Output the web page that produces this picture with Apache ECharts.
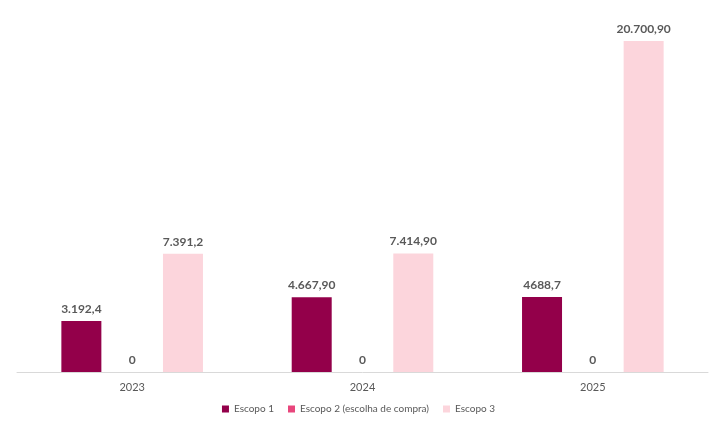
<!DOCTYPE html>
<html>
<head>
<meta charset="utf-8">
<script src="https://cdn.jsdelivr.net/npm/echarts@6/dist/echarts.min.js"></script>
<style>
  html, body { margin: 0; padding: 0; background: #fff; }
  #main { width: 717px; height: 433px; }
</style>
</head>
<body>
<div id="main"></div>
<script>
const years = ['2023', '2024', '2025'];
const escopo1 = [3192.4, 4667.9, 4688.7];
const escopo2 = [0, 0, 0];
const escopo3 = [7391.2, 7414.9, 20700.9];
// labels as printed in the source (mixed formats)
const labels1 = ['3.192,4', '4.667,90', '4688,7'];
const labels2 = ['0', '0', '0'];
const labels3 = ['7.391,2', '7.414,90', '20.700,90'];

const fontFamily = 'Lato, "Open Sans", sans-serif';

function labelFor(texts) {
    return {
        show: true,
        position: 'top',
        distance: 6,
        color: '#595959',
        fontWeight: 'bold',
        fontSize: 12,
        fontFamily: fontFamily,
        formatter: p => texts[p.dataIndex]
    };
}

const chart = echarts.init(document.getElementById('main'));

const option = {
    animation: false,
    grid: { left: 17, right: 9, top: 41, bottom: 61 },
    legend: {
        bottom: 14,
        left: 'center',
        icon: 'rect',
        itemWidth: 7,
        itemHeight: 7,
        itemGap: 14,
        textStyle: { color: '#595959', fontSize: 10, fontFamily: fontFamily }
    },
    xAxis: {
        type: 'category',
        data: years,
        axisTick: { show: false },
        axisLine: { lineStyle: { color: '#d9d9d9' } },
        axisLabel: { color: '#595959', fontSize: 11, margin: 10, fontFamily: fontFamily }
    },
    yAxis: {
        type: 'value',
        min: 0,
        max: 20700.9,
        show: false
    },
    series: [
        {
            name: 'Escopo 1',
            type: 'bar',
            data: escopo1,
            barWidth: 40,
            barGap: '27%',
            itemStyle: { color: '#93004a' },
            label: labelFor(labels1)
        },
        {
            name: 'Escopo 2 (escolha de compra)',
            type: 'bar',
            data: escopo2,
            barWidth: 40,
            itemStyle: { color: '#e8467c' },
            label: labelFor(labels2)
        },
        {
            name: 'Escopo 3',
            type: 'bar',
            data: escopo3,
            barWidth: 40,
            itemStyle: { color: '#fcd5dc' },
            label: labelFor(labels3)
        }
    ]
};

chart.setOption(option);
</script>
</body>
</html>
